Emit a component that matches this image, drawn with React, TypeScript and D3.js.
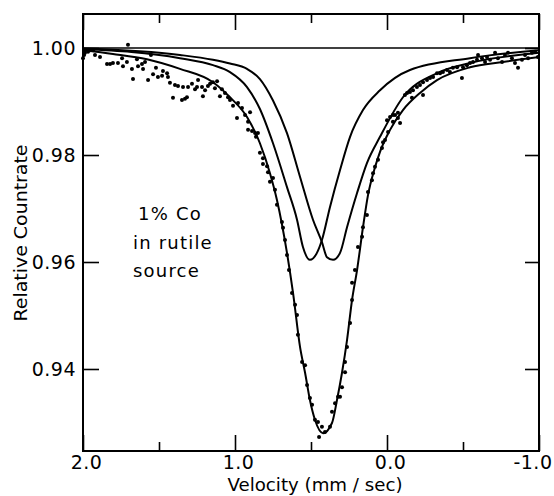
import { useEffect, useRef } from "react";
import * as d3 from "d3";

// Mossbauer spectrum, 1% Co in rutile source
// measured points: velocity (mm/sec) and relative countrate
const dotVelocity = [
  2.0, 1.993, 1.987, 1.967, 1.954, 1.934, 1.921, 1.888, 1.842, 1.822, 1.803, 1.77, 1.743, 1.737, 1.711,
  1.704, 1.678, 1.671, 1.645, 1.638, 1.612, 1.605, 1.592, 1.572, 1.553, 1.539, 1.52, 1.507, 1.48, 1.474,
  1.447, 1.441, 1.428, 1.408, 1.395, 1.375, 1.349, 1.342, 1.329, 1.316, 1.309, 1.283, 1.263, 1.25, 1.243,
  1.217, 1.211, 1.197, 1.178, 1.164, 1.145, 1.132, 1.118, 1.099, 1.086, 1.066, 1.046, 1.033, 1.013, 0.987,
  0.98, 0.954, 0.934, 0.914, 0.901, 0.914, 0.888, 0.868, 0.849, 0.862, 0.836, 0.816, 0.816, 0.789, 0.783,
  0.77, 0.75, 0.737, 0.724, 0.691, 0.684, 0.671, 0.658, 0.645, 0.625, 0.605, 0.592, 0.586, 0.559, 0.539,
  0.526, 0.507, 0.493, 0.474, 0.454, 0.447, 0.428, 0.408, 0.375, 0.362, 0.342, 0.322, 0.309, 0.296, 0.276,
  0.276, 0.263, 0.243, 0.23, 0.23, 0.211, 0.191, 0.164, 0.158, 0.132, 0.125, 0.099, 0.092, 0.079, 0.059,
  0.033, 0.026, 0.013, -0.007, 0.0, -0.02, -0.039, -0.053, -0.072, -0.072, -0.039, -0.086, -0.118, -0.132,
  -0.151, -0.164, -0.171, -0.197, -0.217, -0.237, -0.237, -0.263, -0.283, -0.303, -0.329, -0.349, -0.368,
  -0.395, -0.414, -0.434, -0.461, -0.493, -0.5, -0.526, -0.546, -0.566, -0.592, -0.599, -0.625, -0.645,
  -0.658, -0.678, -0.711, -0.73, -0.757, -0.776, -0.796, -0.822, -0.842, -0.862, -0.888, -0.908, -0.928,
  -0.954, -0.974, -0.993,
];
const dotCountrate = [
  0.9981, 0.9987, 0.9991, 0.9993, 0.9996, 0.9996, 0.9987, 0.9983, 0.997, 0.997, 0.9972, 0.9972, 0.9981,
  0.9966, 0.9974, 1.0006, 0.9961, 0.9942, 0.9979, 0.9966, 0.997, 0.9961, 0.9974, 0.994, 0.9987, 0.9951,
  0.9963, 0.9946, 0.9948, 0.9957, 0.9953, 0.9946, 0.9935, 0.9907, 0.9931, 0.9929, 0.9903, 0.9927, 0.9905,
  0.9908, 0.9927, 0.9933, 0.9923, 0.9927, 0.994, 0.9927, 0.991, 0.9921, 0.9929, 0.9933, 0.9936, 0.9925,
  0.9938, 0.991, 0.9923, 0.9916, 0.9908, 0.9903, 0.9892, 0.9869, 0.9897, 0.9888, 0.9875, 0.9862, 0.988,
  0.9847, 0.9845, 0.9841, 0.9841, 0.9834, 0.9804, 0.9794, 0.9783, 0.9779, 0.9768, 0.975, 0.9757, 0.9735,
  0.9707, 0.9675, 0.9664, 0.9641, 0.9613, 0.9585, 0.9542, 0.952, 0.9501, 0.9464, 0.9413, 0.9407, 0.937,
  0.9346, 0.9333, 0.9305, 0.9301, 0.9273, 0.9292, 0.9282, 0.9292, 0.932, 0.9336, 0.9348, 0.9348, 0.9366,
  0.9394, 0.9413, 0.9441, 0.9486, 0.9529, 0.9561, 0.9585, 0.9628, 0.9647, 0.9665, 0.9688, 0.9731, 0.9753,
  0.9766, 0.9778, 0.9791, 0.9813, 0.9824, 0.9828, 0.9843, 0.9865, 0.9871, 0.9875, 0.9875, 0.9879, 0.9869,
  0.9862, 0.986, 0.9912, 0.9916, 0.9918, 0.9907, 0.9921, 0.9927, 0.9931, 0.9936, 0.9912, 0.994, 0.9944,
  0.9946, 0.9953, 0.9953, 0.9955, 0.9959, 0.9955, 0.9963, 0.9964, 0.9944, 0.9964, 0.9968, 0.9972, 0.9974,
  0.9978, 0.9987, 0.9981, 0.9974, 0.9983, 0.9978, 0.9991, 0.9981, 0.9974, 0.9987, 0.9991, 0.9981, 0.9972,
  0.9963, 0.9978, 0.9987, 0.9981, 0.9991, 0.9993, 0.9983,
];

// fitted total curve
const fitVelocity = [
  2.0, 1.803, 1.579, 1.362, 1.145, 1.033, 0.921, 0.836, 0.77, 0.724, 0.658, 0.618, 0.572, 0.539, 0.507,
  0.474, 0.421, 0.362, 0.329, 0.296, 0.263, 0.23, 0.197, 0.158, 0.125, 0.079, 0.046, -0.02, -0.105, -0.217,
  -0.329, -0.546, -0.763, -1.0,
];
const fitCountrate = [
  0.9996, 0.9989, 0.9979, 0.9961, 0.9936, 0.9908, 0.9871, 0.9822, 0.9766, 0.9716, 0.9617, 0.9542, 0.9441,
  0.9393, 0.9342, 0.9305, 0.928, 0.9299, 0.9342, 0.9393, 0.9454, 0.9529, 0.9585, 0.9665, 0.9725, 0.9777,
  0.9806, 0.9847, 0.9884, 0.9916, 0.994, 0.9964, 0.9974, 0.9983,
];

// first component line
const lineAVelocity = [
  2.0, 1.362, 1.145, 1.033, 0.921, 0.836, 0.75, 0.658, 0.592, 0.553, 0.507, 0.461, 0.428, 0.375, 0.309,
  0.243, 0.158, 0.046, -0.151, -0.546, -1.0,
];
const lineACountrate = [
  0.9998, 0.9981, 0.9968, 0.9955, 0.9927, 0.9886, 0.9822, 0.974, 0.9679, 0.9628, 0.9604, 0.9617, 0.9641,
  0.9703, 0.9772, 0.9834, 0.9884, 0.9921, 0.9959, 0.9981, 0.9996,
];

// second component line
const lineBVelocity = [
  2.0, 1.362, 1.145, 1.033, 0.921, 0.836, 0.75, 0.658, 0.572, 0.487, 0.428, 0.395, 0.355, 0.309, 0.263,
  0.197, 0.132, 0.046, -0.105, -0.329, -0.546, -1.0,
];
const lineBCountrate = [
  0.9999, 0.9987, 0.9978, 0.9971, 0.9961, 0.9942, 0.9902, 0.9841, 0.9759, 0.9679, 0.9637, 0.9609, 0.9604,
  0.9617, 0.9665, 0.9729, 0.9785, 0.9834, 0.9908, 0.9953, 0.9972, 0.9991,
];

const xMajor = [2.0, 1.0, 0.0, -1.0];
const xMinor = [1.5, 0.5, -0.5];
const yTicks = [1.0, 0.98, 0.96, 0.94];
const noteLines = ["1% Co", "in rutile", "source"];

const FONT = "DejaVu Sans";

export default function App() {
  const ref = useRef<SVGSVGElement>(null);

  useEffect(() => {
    const width = 554;
    const height = 496;
    const left = 83;
    const right = 539;
    const top = 14;
    const bottom = 451;

    const svg = d3.select(ref.current);
    svg.selectAll("*").remove();
    svg.append("rect").attr("width", width).attr("height", height).attr("fill", "#fff");

    const x = d3.scaleLinear().domain([2.0, -1.0]).range([left, right]);
    const y = d3.scaleLinear().domain([0.92467, 1.00636]).range([bottom, top]);

    // frame
    svg
      .append("rect")
      .attr("x", left)
      .attr("y", top)
      .attr("width", right - left)
      .attr("height", bottom - top)
      .attr("fill", "none")
      .attr("stroke", "#000")
      .attr("stroke-width", 2);

    // baseline at 1.00
    svg
      .append("line")
      .attr("x1", left)
      .attr("x2", right)
      .attr("y1", y(1.0))
      .attr("y2", y(1.0))
      .attr("stroke", "#000")
      .attr("stroke-width", 1.6);

    const styleAxis = (g: any) => {
      g.select(".domain").remove();
      g.selectAll("line").attr("stroke", "#000").attr("stroke-width", 1.6);
      g.selectAll("text")
        .attr("fill", "#000")
        .style("font-family", FONT)
        .style("font-size", "19px")
        .style("letter-spacing", "0.5px");
    };

    // bottom axis
    svg
      .append("g")
      .attr("transform", `translate(0,${bottom})`)
      .call(
        d3
          .axisBottom(x)
          .tickValues(xMajor)
          .tickSizeInner(-16)
          .tickSizeOuter(0)
          .tickPadding(5)
          .tickFormat((d: any) => d.toFixed(1))
      )
      .call(styleAxis)
      .selectAll("text")
      .attr("text-anchor", (d: any) => (d === -1.0 ? "end" : "middle"))
      .attr("dx", (d: any) => (d === -1.0 ? 13 : 3));

    svg
      .append("g")
      .attr("transform", `translate(0,${bottom})`)
      .call(d3.axisBottom(x).tickValues(xMinor).tickSizeInner(-9).tickSizeOuter(0).tickFormat(() => ""))
      .call(styleAxis);

    // top axis
    svg
      .append("g")
      .attr("transform", `translate(0,${top})`)
      .call(d3.axisTop(x).tickValues(xMajor).tickSizeInner(-16).tickSizeOuter(0).tickFormat(() => ""))
      .call(styleAxis);
    svg
      .append("g")
      .attr("transform", `translate(0,${top})`)
      .call(d3.axisTop(x).tickValues(xMinor).tickSizeInner(-9).tickSizeOuter(0).tickFormat(() => ""))
      .call(styleAxis);

    // left axis
    svg
      .append("g")
      .attr("transform", `translate(${left},0)`)
      .call(
        d3
          .axisLeft(y)
          .tickValues(yTicks)
          .tickSizeInner(-16)
          .tickSizeOuter(0)
          .tickPadding(7)
          .tickFormat(d3.format(".2f"))
      )
      .call(styleAxis);

    // right axis
    svg
      .append("g")
      .attr("transform", `translate(${right},0)`)
      .call(d3.axisRight(y).tickValues(yTicks).tickSizeInner(-14).tickSizeOuter(0).tickFormat(() => ""))
      .call(styleAxis);

    // curves
    const line = d3
      .line<[number, number]>()
      .x((d) => x(d[0]))
      .y((d) => y(d[1]))
      .curve(d3.curveMonotoneX);

    const curves = [
      [lineAVelocity, lineACountrate],
      [lineBVelocity, lineBCountrate],
      [fitVelocity, fitCountrate],
    ];
    curves.forEach(([vs, cs]) => {
      const pts = vs.map((v, i) => [v, cs[i]] as [number, number]);
      svg
        .append("path")
        .attr("d", line(pts))
        .attr("fill", "none")
        .attr("stroke", "#000")
        .attr("stroke-width", 2);
    });

    // data points
    svg
      .append("g")
      .selectAll("circle")
      .data(dotVelocity.map((v, i) => [v, dotCountrate[i]]))
      .enter()
      .append("circle")
      .attr("cx", (d) => x(d[0]))
      .attr("cy", (d) => y(d[1]))
      .attr("r", 2)
      .attr("fill", "#000");

    // annotation
    svg
      .append("g")
      .selectAll("text")
      .data(noteLines)
      .enter()
      .append("text")
      .attr("x", (d, i) => (i === 0 ? 138 : 133))
      .attr("y", (d, i) => [220, 249, 277][i])
      .text((d) => d)
      .attr("fill", "#000")
      .style("font-family", FONT)
      .style("font-size", "18px")
      .style("letter-spacing", "1.2px");

    // axis titles
    svg
      .append("text")
      .attr("text-anchor", "middle")
      .attr("x", 315)
      .attr("y", 491)
      .attr("textLength", 175)
      .attr("lengthAdjust", "spacingAndGlyphs")
      .text("Velocity (mm / sec)")
      .attr("fill", "#000")
      .style("font-family", FONT)
      .style("font-size", "18px");

    svg
      .append("text")
      .attr("text-anchor", "middle")
      .attr("transform", "translate(27,233)rotate(-90)")
      .attr("textLength", 177)
      .attr("lengthAdjust", "spacingAndGlyphs")
      .text("Relative Countrate")
      .attr("fill", "#000")
      .style("font-family", FONT)
      .style("font-size", "18px");
  }, []);

  return (
    <svg
      ref={ref}
      width={554}
      height={496}
      style={{ position: "absolute", left: 0, top: 0, display: "block" }}
    />
  );
}
